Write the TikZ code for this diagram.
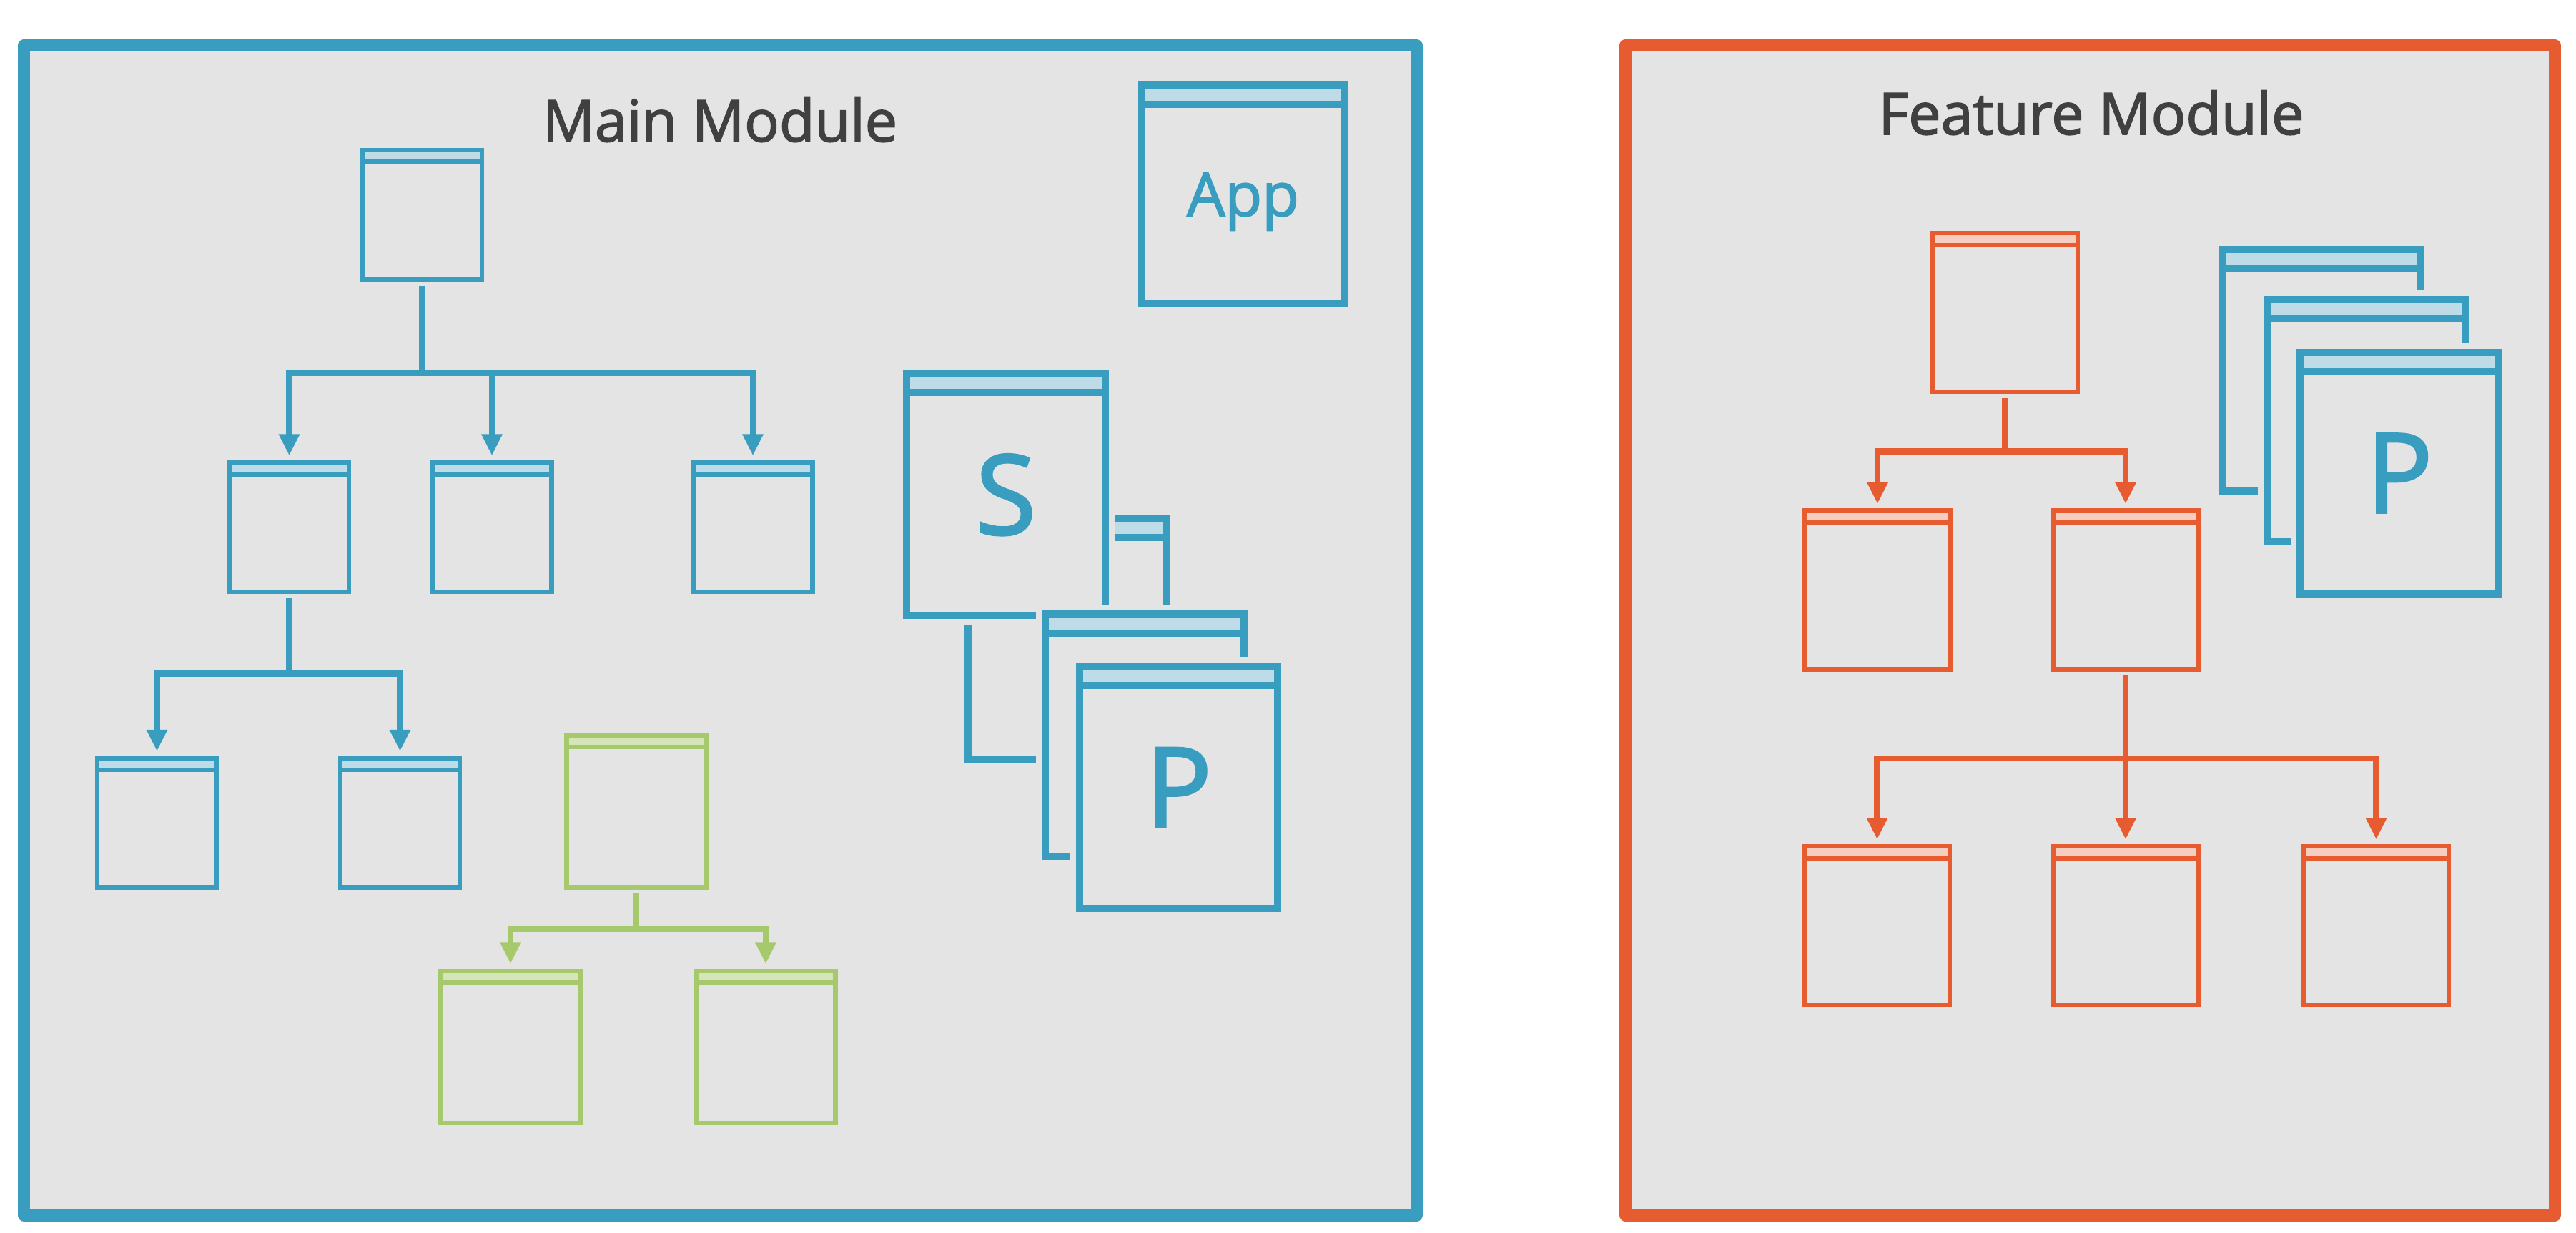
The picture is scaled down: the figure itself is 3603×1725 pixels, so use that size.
\documentclass[tikz,border=0pt]{standalone}
\usepackage{fontspec}
\setmainfont{Open Sans}
\newfontfamily\heavyfont{Open Sans}[FakeBold=2]
\usepackage{tikz}
\usetikzlibrary{arrows.meta}
\usepackage{xcolor}

\definecolor{modblue}{HTML}{389DBE}
\definecolor{modbluel}{HTML}{BEDCE8}
\definecolor{modorange}{HTML}{E65C30}
\definecolor{modorangel}{HTML}{F6CDBF}
\definecolor{modgreen}{HTML}{A6CA6B}
\definecolor{modgreenl}{HTML}{D4E6B8}
\definecolor{panel}{HTML}{E4E4E5}
\definecolor{titlegray}{HTML}{404040}

\begin{document}
\begin{tikzpicture}[x=0.01cm, y=-0.01cm,
    win/.style n args={3}{rectangle, inner sep=0pt, draw=#1, fill=panel,
      path picture={
        \fill[#2] (path picture bounding box.north west) rectangle ([yshift=-#3]path picture bounding box.north east);
        \draw[#1] ([yshift=-#3]path picture bounding box.north west) -- ([yshift=-#3]path picture bounding box.north east);
      }},
    bluewin/.style={win={modblue}{modbluel}{0.165cm}, line width=1.85pt, minimum width=1.67cm, minimum height=1.81cm},
    greenwin/.style={win={modgreen}{modgreenl}{0.165cm}, line width=1.85pt, minimum width=1.95cm, minimum height=2.13cm},
    orangewin/.style={win={modorange}{modorangel}{0.17cm}, line width=1.85pt, minimum width=2.03cm, minimum height=2.22cm},
    bigwin/.style={win={modblue}{modbluel}{0.27cm}, line width=2.85pt, minimum width=2.77cm, minimum height=3.38cm,
      preaction={draw=panel, line width=7.4pt}, text=modblue, text depth=0pt,
      font=\heavyfont\fontsize{44}{50}\selectfont},
    modframe/.style={draw=#1, fill=panel, line width=4.85pt, line join=round},
    title/.style={text=titlegray, inner sep=0pt, font=\heavyfont\fontsize{23}{27}\selectfont},
    link/.style={draw=#1, line width=2.4pt, shorten <=1.5pt, shorten >=1.8pt,
      -{Triangle[length=8.5pt, width=7.8pt]}}
  ]
    \useasboundingbox (0,0) rectangle (3603,1725);
    \fill[white] (0,0) rectangle (3603,1725);

    % Module frames
    \draw[modframe=modblue] (33.5,63.5) rectangle (1981,1700);
    \draw[modframe=modorange] (2273.5,63.5) rectangle (3573,1700);

    % Titles
    \node[title, anchor=base] (mainttl) at (1007,198) {Main Module};
    \node[title, anchor=base] (featttl) at (2925,188) {Feature Module};

    % Main module: component tree
    \node[bluewin] (b0) at (590.5,300.5) {};
    \node[bluewin] (b1) at (404.5,737.5) {};
    \node[bluewin] (b2) at (688,737.5) {};
    \node[bluewin] (b3) at (1053,737.5) {};
    \node[bluewin] (b4) at (219.5,1151) {};
    \node[bluewin] (b5) at (559.5,1151) {};

    \draw[link=modblue] (b0.south) -- ++(0,127) -| (b1.north);
    \draw[link=modblue] (b0.south) -- ++(0,127) -| (b2.north);
    \draw[link=modblue] (b0.south) -- ++(0,127) -| (b3.north);
    \draw[link=modblue] (b1.south) -- ++(0,111) -| (b4.north);
    \draw[link=modblue] (b1.south) -- ++(0,111) -| (b5.north);

    % Main module: green tree
    \node[greenwin] (g0) at (890,1135) {};
    \node[greenwin] (g1) at (714,1464.5) {};
    \node[greenwin] (g2) at (1071,1464.5) {};

    \draw[link=modgreen] (g0.south) -- ++(0,55) -| (g1.north);
    \draw[link=modgreen] (g0.south) -- ++(0,55) -| (g2.north);

    % App, service and pipes
    \node[bigwin, minimum width=2.85cm, minimum height=3.06cm, font=\heavyfont\fontsize{24}{28}\selectfont] (app) at (1738.5,272) {App};
    \node[bigwin] (svcback) at (1492.5,894) {};
    \node[bigwin] (svc) at (1407,691.5) {S};
    \node[bigwin] (pipeback) at (1601,1028.5) {};
    \node[bigwin] (pipe) at (1648.5,1101.5) {P};

    % Feature module: component tree
    \node[orangewin] (f0) at (2804.5,437) {};
    \node[orangewin] (f1) at (2626,825.5) {};
    \node[orangewin] (f2) at (2973,825.5) {};
    \node[orangewin] (f3) at (2625.5,1295) {};
    \node[orangewin] (f4) at (2973,1295) {};
    \node[orangewin] (f5) at (3323.5,1295) {};

    \draw[link=modorange] (f0.south) -- ++(0,80) -| (f1.north);
    \draw[link=modorange] (f0.south) -- ++(0,80) -| (f2.north);
    \draw[link=modorange] (f2.south) -- ++(0,121) -| (f3.north);
    \draw[link=modorange] (f2.south) -- ++(0,121) -| (f4.north);
    \draw[link=modorange] (f2.south) -- ++(0,121) -| (f5.north);

    % Feature module: pipes
    \node[bigwin] (fpipea) at (3247.5,518) {};
    \node[bigwin] (fpipeb) at (3309.5,588) {};
    \node[bigwin] (fpipec) at (3356,662) {P};
\end{tikzpicture}
\end{document}
